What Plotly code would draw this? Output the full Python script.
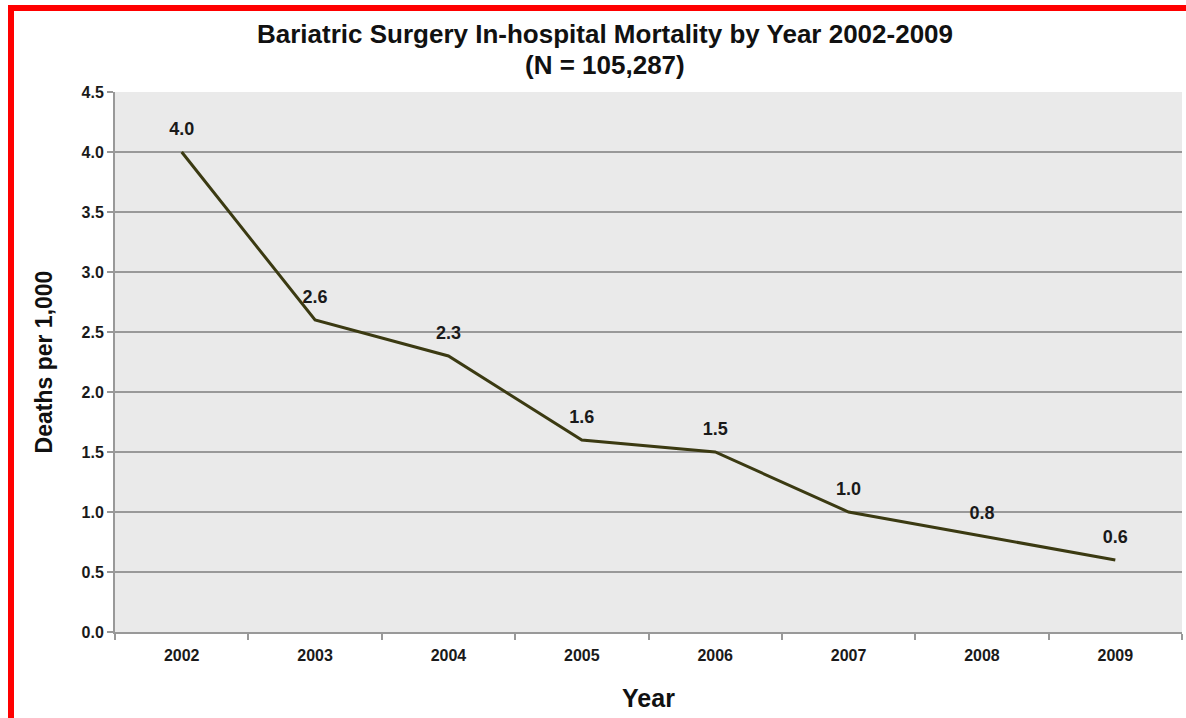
import plotly.graph_objects as go

years = ["2002", "2003", "2004", "2005", "2006", "2007", "2008", "2009"]
deaths = [4.0, 2.6, 2.3, 1.6, 1.5, 1.0, 0.8, 0.6]
labels = ["4.0", "2.6", "2.3", "1.6", "1.5", "1.0", "0.8", "0.6"]
y_ticks = [0.0, 0.5, 1.0, 1.5, 2.0, 2.5, 3.0, 3.5, 4.0, 4.5]
y_tick_text = ["0.0", "0.5", "1.0", "1.5", "2.0", "2.5", "3.0", "3.5", "4.0", "4.5"]

W, H = 1186, 718
L, R, T, B = 115, 4, 92, 86
pw, ph = W - L - R, H - T - B
FONT = "Liberation Sans, Arial, Helvetica, sans-serif"

def px_x(x):
    return (x - L) / pw

def px_y(y):
    return (H - B - y) / ph

fig = go.Figure()
fig.add_trace(go.Scatter(
    x=years, y=deaths, mode="lines+markers+text",
    line=dict(color="#3b3a12", width=3),
    marker=dict(size=18, color="rgba(0,0,0,0)"),
    text=["<b>" + t + "</b>" for t in labels], textposition="top center",
    textfont=dict(family=FONT, size=18, color="#1a1a1a"),
    cliponaxis=False, showlegend=False, hoverinfo="skip",
))

fig.update_layout(
    width=W, height=H,
    margin=dict(l=L, r=R, t=T, b=B),
    paper_bgcolor="white", plot_bgcolor="#eaeaea",
    font=dict(family=FONT, color="#1a1a1a"),
    annotations=[
        dict(text="<b>Bariatric Surgery In-hospital Mortality by Year 2002-2009</b>",
             x=px_x(605), y=px_y(34), xref="paper", yref="paper",
             xanchor="center", yanchor="middle",
             showarrow=False, font=dict(size=26, color="#111")),
        dict(text="<b>(N = 105,287)</b>",
             x=px_x(605), y=px_y(65), xref="paper", yref="paper",
             xanchor="center", yanchor="middle",
             showarrow=False, font=dict(size=26, color="#111")),
    ],
    shapes=[
        dict(type="rect", xref="paper", yref="paper",
             x0=px_x(11), x1=px_x(1250), y0=px_y(8), y1=px_y(800),
             line=dict(color="#ff0000", width=6), layer="above"),
    ],
)

fig.update_xaxes(
    type="category", range=[-0.5, 7.5],
    showgrid=False, showline=True, linecolor="#999", linewidth=2,
    ticks="outside", ticklen=6, tickcolor="#999", tickwidth=2,
    tickson="boundaries", ticklabelstandoff=8,
    tickfont=dict(size=16, family=FONT, color="#1a1a1a"),
    tickprefix="<b>", ticksuffix="</b>",
    title=dict(text="<b>Year</b>", font=dict(size=25, color="#111"), standoff=26),
)
fig.update_yaxes(
    range=[0, 4.5], tickvals=y_ticks,
    ticktext=["<b>" + t + "</b>" for t in y_tick_text],
    showgrid=True, gridcolor="#999", gridwidth=1.5,
    showline=True, linecolor="#999", linewidth=2,
    ticks="outside", ticklen=6, tickcolor="#999", tickwidth=2,
    tickfont=dict(size=16, family=FONT, color="#1a1a1a"),
    zeroline=False,
    title=dict(text="<b>Deaths per 1,000</b>", font=dict(size=23, color="#111"), standoff=22),
)

fig.write_html("out.html", config={"displayModeBar": False},
               post_script="document.body.style.margin='0';document.body.style.overflow='hidden';")
